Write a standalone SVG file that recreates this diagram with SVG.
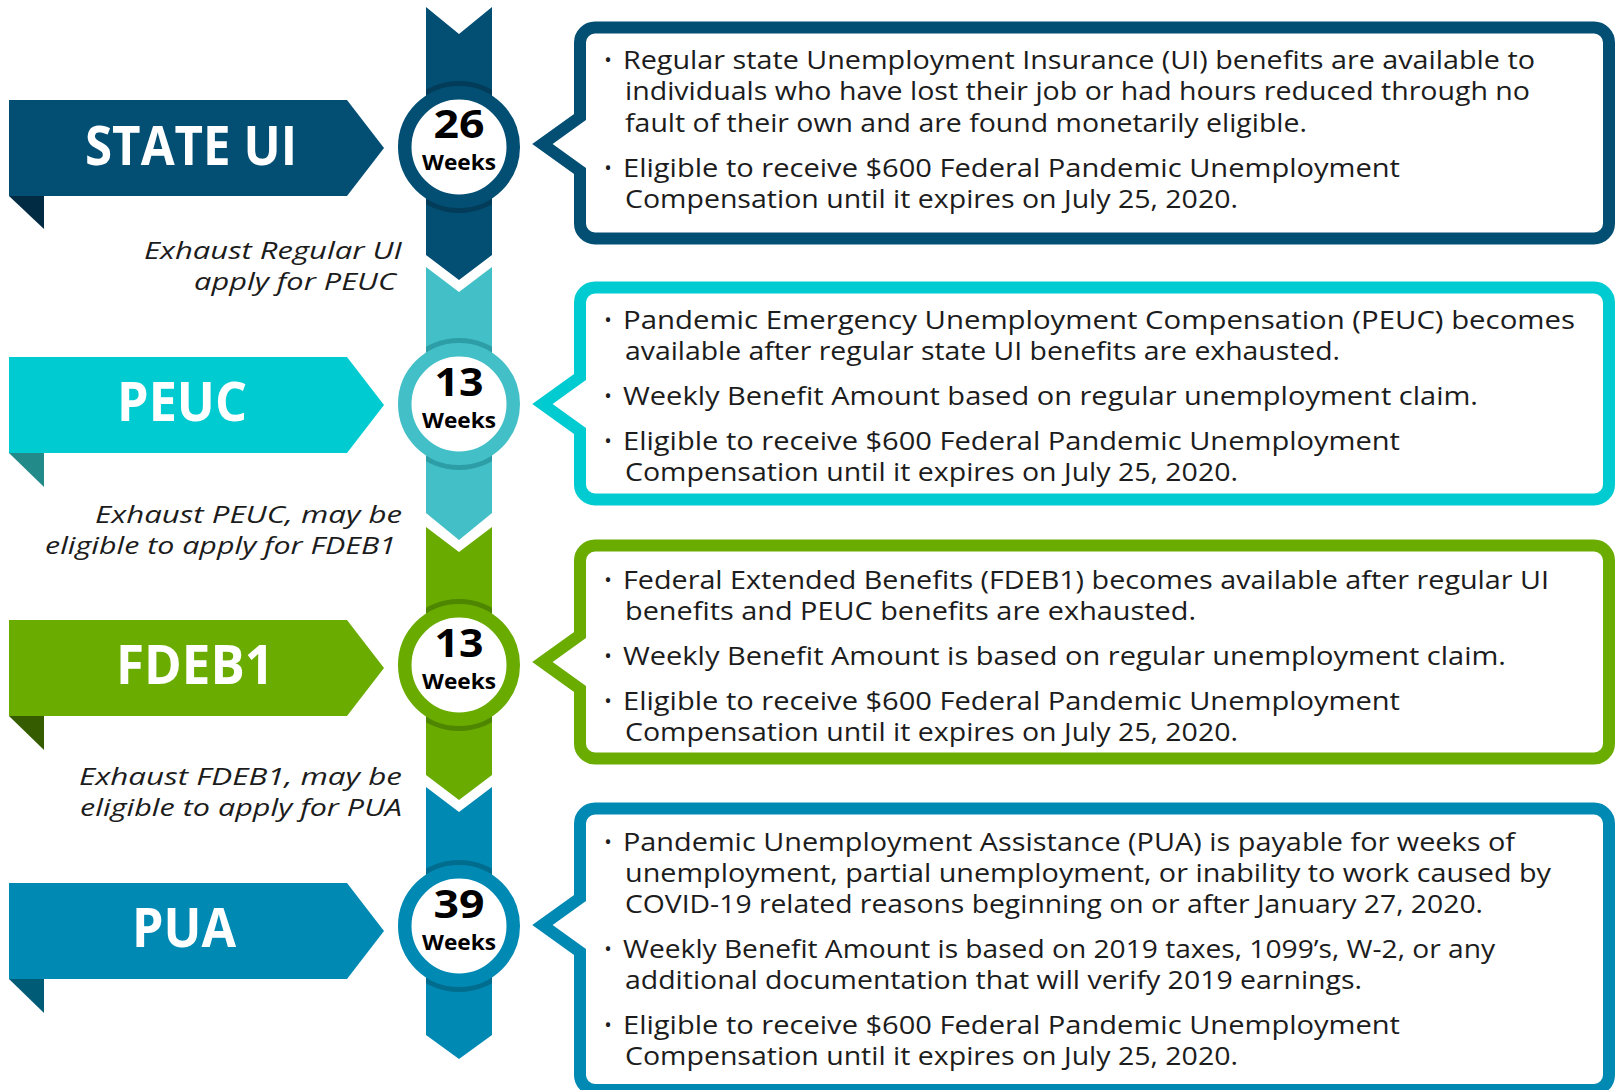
<svg xmlns="http://www.w3.org/2000/svg" width="1623" height="1090" viewBox="0 0 1623 1090">
<style>
text{font-family:"Open Sans","Liberation Sans",sans-serif}
.body{font-size:25px;fill:#1c1c1c}
.bul{font-size:20px;fill:#1c1c1c;text-anchor:middle}
.lab{font-size:24px;font-style:italic;fill:#1c1c1c}
.ban{font-size:53px;font-weight:700;fill:#fff}
.num{font-size:39px;font-weight:700;fill:#000;text-anchor:middle}
.wk{font-size:22px;font-weight:700;fill:#000;text-anchor:middle}
.box{fill:#fff;stroke-width:12;stroke-linejoin:miter}
</style>
<defs>
<clipPath id="col"><rect x="426" y="0" width="66" height="1090"/></clipPath>
</defs>
<rect width="1623" height="1090" fill="#fff"/>

<g id="timeline">
<polygon points="426,7 459,34 492,7 492,255 459,280 426,255" fill="#034f74"/>
<polygon points="426,267 459,292 492,267 492,513 459,540 426,513" fill="#43bfc7"/>
<polygon points="426,527 459,552 492,527 492,775 459,800 426,775" fill="#6aab00"/>
<polygon points="426,787 459,812 492,787 492,1035 459,1059 426,1035" fill="#0089b3"/>
</g>

<g id="state-ui">
<polygon points="9,196 44,196 44,229" fill="#012b42"/>
<polygon points="9,100 347,100 384,148 347,196 9,196" fill="#034f74"/>
<text class="ban" x="85" y="165" textLength="212" lengthAdjust="spacingAndGlyphs">STATE UI</text>
<circle cx="459" cy="147" r="66" fill="#023c59" clip-path="url(#col)"/>
<circle cx="459" cy="147" r="54.25" fill="#fff" stroke="#034f74" stroke-width="13.5"/>
<text class="num" x="459" y="138" textLength="51" lengthAdjust="spacingAndGlyphs">26</text>
<text class="wk" x="459" y="170" textLength="74" lengthAdjust="spacingAndGlyphs">Weeks</text>
</g>

<g id="peuc">
<polygon points="9,453 44,453 44,487" fill="#238a8a"/>
<polygon points="9,357 347,357 384,405 347,453 9,453" fill="#00cbd1"/>
<text class="ban" x="117" y="421" textLength="130" lengthAdjust="spacingAndGlyphs">PEUC</text>
<circle cx="459" cy="404" r="66" fill="#2d9ea6" clip-path="url(#col)"/>
<circle cx="459" cy="404" r="54.25" fill="#fff" stroke="#43bfc7" stroke-width="13.5"/>
<text class="num" x="459" y="396" textLength="49" lengthAdjust="spacingAndGlyphs">13</text>
<text class="wk" x="459" y="428" textLength="74" lengthAdjust="spacingAndGlyphs">Weeks</text>
</g>

<g id="fdeb1">
<polygon points="9,716 44,716 44,750" fill="#365c00"/>
<polygon points="9,620 347,620 384,668 347,716 9,716" fill="#6aac00"/>
<text class="ban" x="116" y="684" textLength="158" lengthAdjust="spacingAndGlyphs">FDEB1</text>
<circle cx="459" cy="665" r="66" fill="#4e8600" clip-path="url(#col)"/>
<circle cx="459" cy="665" r="54.25" fill="#fff" stroke="#6aab00" stroke-width="13.5"/>
<text class="num" x="459" y="657" textLength="49" lengthAdjust="spacingAndGlyphs">13</text>
<text class="wk" x="459" y="689" textLength="74" lengthAdjust="spacingAndGlyphs">Weeks</text>
</g>

<g id="pua">
<polygon points="9,979 44,979 44,1013" fill="#005b77"/>
<polygon points="9,883 347,883 384,931 347,979 9,979" fill="#0089b3"/>
<text class="ban" x="132" y="947" textLength="104" lengthAdjust="spacingAndGlyphs">PUA</text>
<circle cx="459" cy="926" r="66" fill="#006d8e" clip-path="url(#col)"/>
<circle cx="459" cy="926" r="54.25" fill="#fff" stroke="#0089b3" stroke-width="13.5"/>
<text class="num" x="459" y="918" textLength="51" lengthAdjust="spacingAndGlyphs">39</text>
<text class="wk" x="459" y="950" textLength="74" lengthAdjust="spacingAndGlyphs">Weeks</text>
</g>

<g id="transition-labels">
<text class="lab" x="144" y="259" textLength="258" lengthAdjust="spacingAndGlyphs">Exhaust Regular UI</text>
<text class="lab" x="194" y="290" textLength="202" lengthAdjust="spacingAndGlyphs">apply for PEUC</text>
<text class="lab" x="95" y="523" textLength="307" lengthAdjust="spacingAndGlyphs">Exhaust PEUC, may be</text>
<text class="lab" x="45" y="554" textLength="351" lengthAdjust="spacingAndGlyphs">eligible to apply for FDEB1</text>
<text class="lab" x="79" y="785" textLength="323" lengthAdjust="spacingAndGlyphs">Exhaust FDEB1, may be</text>
<text class="lab" x="80" y="816" textLength="322" lengthAdjust="spacingAndGlyphs">eligible to apply for PUA</text>
</g>

<g id="box-state-ui">
<path class="box" stroke="#034f74" d="M595,27.5 H1594 A15,15 0 0 1 1609,42.5 V223.5 A15,15 0 0 1 1594,238.5 H595 A15,15 0 0 1 580,223.5 V171 L542.5,144 L580,117 V42.5 A15,15 0 0 1 595,27.5 Z"/>
<text class="bul" x="608" y="67">•</text>
<text class="body" x="623" y="69" textLength="912" lengthAdjust="spacingAndGlyphs">Regular state Unemployment Insurance (UI) benefits are available to</text>
<text class="body" x="625" y="100" textLength="905" lengthAdjust="spacingAndGlyphs">individuals who have lost their job or had hours reduced through no</text>
<text class="body" x="625" y="132" textLength="682" lengthAdjust="spacingAndGlyphs">fault of their own and are found monetarily eligible.</text>
<text class="bul" x="608" y="175">•</text>
<text class="body" x="623" y="177" textLength="777" lengthAdjust="spacingAndGlyphs">Eligible to receive $600 Federal Pandemic Unemployment</text>
<text class="body" x="625" y="208" textLength="613" lengthAdjust="spacingAndGlyphs">Compensation until it expires on July 25, 2020.</text>
</g>

<g id="box-peuc">
<path class="box" stroke="#00cbd1" d="M595,287.5 H1594 A15,15 0 0 1 1609,302.5 V484.5 A15,15 0 0 1 1594,499.5 H595 A15,15 0 0 1 580,484.5 V431 L542.5,404 L580,377 V302.5 A15,15 0 0 1 595,287.5 Z"/>
<text class="bul" x="608" y="327">•</text>
<text class="body" x="623" y="329" textLength="952" lengthAdjust="spacingAndGlyphs">Pandemic Emergency Unemployment Compensation (PEUC) becomes</text>
<text class="body" x="625" y="360" textLength="715" lengthAdjust="spacingAndGlyphs">available after regular state UI benefits are exhausted.</text>
<text class="bul" x="608" y="403">•</text>
<text class="body" x="623" y="405" textLength="855" lengthAdjust="spacingAndGlyphs">Weekly Benefit Amount based on regular unemployment claim.</text>
<text class="bul" x="608" y="448">•</text>
<text class="body" x="623" y="450" textLength="777" lengthAdjust="spacingAndGlyphs">Eligible to receive $600 Federal Pandemic Unemployment</text>
<text class="body" x="625" y="481" textLength="613" lengthAdjust="spacingAndGlyphs">Compensation until it expires on July 25, 2020.</text>
</g>

<g id="box-fdeb1">
<path class="box" stroke="#6aac00" d="M595,545.5 H1594 A15,15 0 0 1 1609,560.5 V743.5 A15,15 0 0 1 1594,758.5 H595 A15,15 0 0 1 580,743.5 V689 L542.5,662 L580,635 V560.5 A15,15 0 0 1 595,545.5 Z"/>
<text class="bul" x="608" y="587">•</text>
<text class="body" x="623" y="589" textLength="926" lengthAdjust="spacingAndGlyphs">Federal Extended Benefits (FDEB1) becomes available after regular UI</text>
<text class="body" x="625" y="620" textLength="571" lengthAdjust="spacingAndGlyphs">benefits and PEUC benefits are exhausted.</text>
<text class="bul" x="608" y="663">•</text>
<text class="body" x="623" y="665" textLength="883" lengthAdjust="spacingAndGlyphs">Weekly Benefit Amount is based on regular unemployment claim.</text>
<text class="bul" x="608" y="708">•</text>
<text class="body" x="623" y="710" textLength="777" lengthAdjust="spacingAndGlyphs">Eligible to receive $600 Federal Pandemic Unemployment</text>
<text class="body" x="625" y="741" textLength="613" lengthAdjust="spacingAndGlyphs">Compensation until it expires on July 25, 2020.</text>
</g>

<g id="box-pua">
<path class="box" stroke="#0089b3" d="M595,808.5 H1594 A15,15 0 0 1 1609,823.5 V1075 A15,15 0 0 1 1594,1090 H595 A15,15 0 0 1 580,1075 V952 L542.5,925 L580,898 V823.5 A15,15 0 0 1 595,808.5 Z"/>
<text class="bul" x="608" y="849">•</text>
<text class="body" x="623" y="851" textLength="892" lengthAdjust="spacingAndGlyphs">Pandemic Unemployment Assistance (PUA) is payable for weeks of</text>
<text class="body" x="625" y="882" textLength="926" lengthAdjust="spacingAndGlyphs">unemployment, partial unemployment, or inability to work caused by</text>
<text class="body" x="625" y="913" textLength="858" lengthAdjust="spacingAndGlyphs">COVID-19 related reasons beginning on or after January 27, 2020.</text>
<text class="bul" x="608" y="956">•</text>
<text class="body" x="623" y="958" textLength="872" lengthAdjust="spacingAndGlyphs">Weekly Benefit Amount is based on 2019 taxes, 1099’s, W-2, or any</text>
<text class="body" x="625" y="989" textLength="737" lengthAdjust="spacingAndGlyphs">additional documentation that will verify 2019 earnings.</text>
<text class="bul" x="608" y="1032">•</text>
<text class="body" x="623" y="1034" textLength="777" lengthAdjust="spacingAndGlyphs">Eligible to receive $600 Federal Pandemic Unemployment</text>
<text class="body" x="625" y="1065" textLength="613" lengthAdjust="spacingAndGlyphs">Compensation until it expires on July 25, 2020.</text>
</g>
</svg>
